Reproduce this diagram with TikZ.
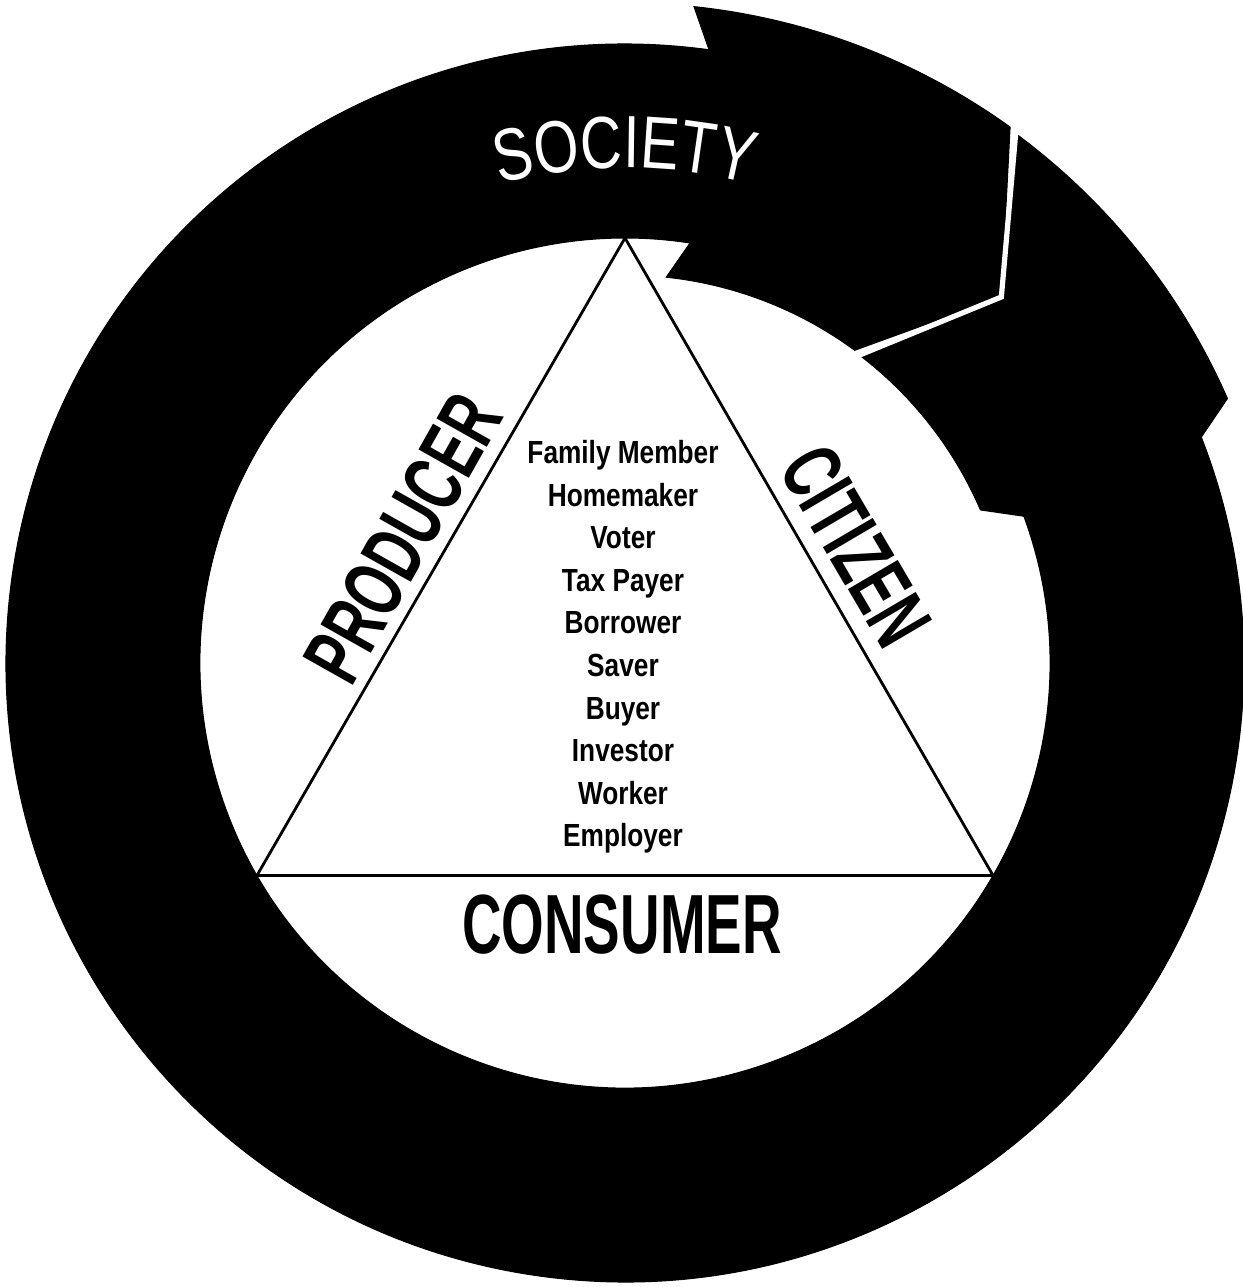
\documentclass[tikz,border=0pt]{standalone}
\usepackage{fontspec}
\usetikzlibrary{decorations.text}
\newfontfamily\labfont[FakeStretch=0.652]{Liberation Sans}
\newfontfamily\listfont[FakeStretch=0.82]{Liberation Sans}
\newfontfamily\socfont[FakeStretch=0.78]{Liberation Sans}
\tikzset{
  band/.style={fill=black, draw=black, line width=0.5pt, line join=miter},
  side/.style={draw=black, line width=1.4pt, line join=miter},
  biglabel/.style={font=\labfont\bfseries\fontsize{42pt}{42pt}\selectfont, inner sep=0pt},
  rolelist/.style={font=\listfont\bfseries\fontsize{16pt}{21.3pt}\selectfont, align=center, inner sep=0pt},
  gapline/.style={draw=white, line width=2.6pt, line join=miter}
}
\begin{document}
\begin{tikzpicture}
\useasboundingbox (-312.5pt,-312pt) rectangle (309pt,331.5pt);
% ring body
\path[band] (82.2:309.5pt) arc[start angle=82.2, end angle=381.4, radius=309.5pt]
  -- (380.2:212.5pt) arc[start angle=380.2, end angle=81.2, radius=212.5pt] -- cycle;
% arrow head (wide part)
\path[band] (84:330pt) arc[start angle=84, end angle=54.3, radius=330pt]
  -- (44.2:262.5pt) -- (53.7:194pt) arc[start angle=53.7, end angle=83.9, radius=194pt]
  -- (81.2:212.5pt) -- (82.2:309.5pt) -- cycle;
% arrow tail (wide part)
\path[band] (53.6:329pt) arc[start angle=53.6, end angle=23.7, radius=329pt]
  -- (21.4:309.5pt) -- (20.2:212.5pt) -- (23.3:193.5pt)
  arc[start angle=23.3, end angle=52.8, radius=193.5pt] -- (44.2:262.5pt) -- cycle;
% white chevron between head and tail
\draw[gapline] (54.3:336pt) -- (44.2:262.5pt) -- (53.7:188pt);
% SOCIETY on the ring
\path[decorate, decoration={text along path, text align=center, text color=white,
  text={|\socfont\fontsize{37pt}{37pt}\selectfont|SOCIETY}}]
  (112:247.5pt) arc[start angle=112, end angle=68, radius=247.5pt];
% triangle
\coordinate (apex) at (90:212.5pt);
\coordinate (bl) at (210:212.5pt);
\coordinate (br) at (330:212.5pt);
\draw[side] (apex) -- (bl) -- (br) -- cycle;
% labels
\node[biglabel] (consumer) at (-1.5pt,-131pt) {CONSUMER};
\node[biglabel, rotate=60.6] (producer) at (-111pt,62.5pt) {PRODUCER};
\node[biglabel, rotate=-59.6] (citizen) at (115.5pt,58.5pt) {CITIZEN};
\node[rolelist] (roles) at (-1pt,8pt) {Family Member\\Homemaker\\Voter\\Tax Payer\\Borrower\\Saver\\Buyer\\Investor\\Worker\\Employer};
\end{tikzpicture}
\end{document}
